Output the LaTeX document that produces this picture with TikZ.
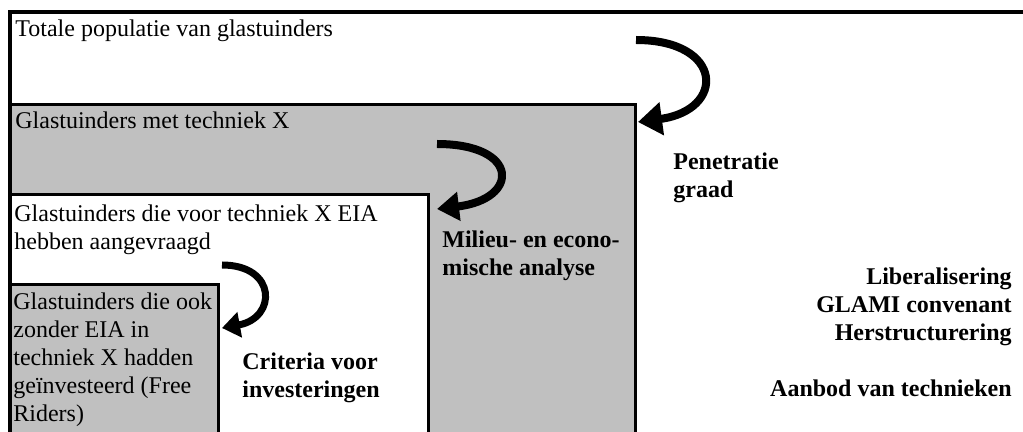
\documentclass[tikz,border=0pt]{standalone}
\usepackage{fontspec}
\setmainfont{Liberation Serif}
\usetikzlibrary{arrows.meta}
\definecolor{boxgray}{HTML}{C0C0C0}

\begin{document}
\begin{tikzpicture}[x=0.5pt,y=-0.5pt,
  txt/.style={inner sep=0pt,anchor=base west,align=left,font=\fontsize{12}{14}\selectfont},
  lbl/.style={txt,font=\fontsize{12}{14}\selectfont\bfseries},
  lvl/.style={draw,line width=1.5pt},
  curl/.style={line width=4pt,-{Triangle[length=12pt,width=16pt]}}]

\useasboundingbox (0,0) rectangle (1023,432);
\clip (0,0) rectangle (1023,432);

\draw[lvl,fill=boxgray] (10,105) rectangle (635,500);
\draw[lvl,fill=white] (10,195) rectangle (428,500);
\draw[lvl,fill=boxgray] (10,285) rectangle (218,500);
\draw[line width=2pt] (10,600) -- (10,12) -- (1100,12);

% multi-line nodes sit on the baseline of their last line
\node[txt] (Tot) at (15,37) {Totale populatie van glastuinders};
\node[txt] (Tech) at (15,129) {Glastuinders met techniek X};
\node[txt] (EIA) at (14,250) {Glastuinders die voor techniek X EIA\\hebben aangevraagd};
\node[txt] (FR) at (13,422) {Glastuinders die ook\\zonder EIA in\\techniek X hadden\\geïnvesteerd (Free\\Riders)};

\node[lbl] (Crit) at (242,398) {Criteria voor\\investeringen};
\node[lbl] (Mil) at (442,276) {Milieu- en econo-\\mische analyse};
\node[lbl] (Pen) at (673,198) {Penetratie\\graad};
\node[lbl,anchor=base east,align=right] (Ext) at (1012,397)
  {Liberalisering\\GLAMI convenant\\Herstructurering\\[14pt]Aanbod van technieken};

\coordinate (t1) at (636,40);
\coordinate (h1) at (638,122);
\coordinate (t2) at (437,144);
\coordinate (h2) at (437,209);
\coordinate (t3) at (222,265);
\coordinate (h3) at (222,328);

\draw[curl] (t1) .. controls +(88,0) and +(88,-12) .. (h1);
\draw[curl,-{Triangle[length=11pt,width=14pt]}] (t2) .. controls +(83,0) and +(83,-10) .. (h2);
\draw[curl,line width=3.5pt,-{Triangle[length=9pt,width=12.5pt]}] (t3) .. controls +(55,0) and +(55,-10) .. (h3);

\end{tikzpicture}
\end{document}
